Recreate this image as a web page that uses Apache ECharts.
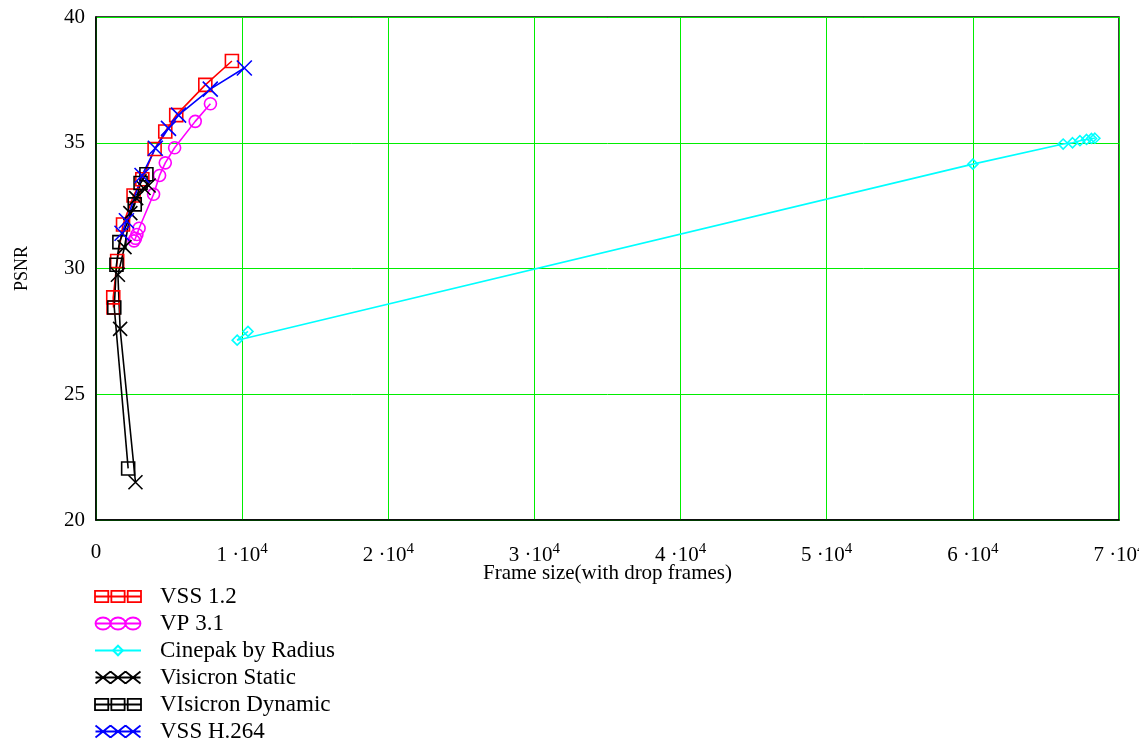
<!DOCTYPE html>
<html>
<head>
<meta charset="utf-8">
<script src="https://cdn.jsdelivr.net/npm/echarts@6/dist/echarts.min.js"></script>
<style>
html,body{margin:0;padding:0;background:#fff;}
#chart{width:1139px;height:743px;}
</style>
</head>
<body>
<div id="chart"></div>
<script>
// ---- data (x: frame size, y: PSNR) ----
const seriesNames = ['VSS 1.2', 'VP 3.1', 'Cinepak by Radius', 'Visicron Static', 'VIsicron Dynamic', 'VSS H.264'];

const vss12 = [[1200,28.45],[1180,28.85],[1450,30.3],[1850,31.75],[2570,32.9],[3170,33.55],[4010,34.75],[4740,35.45],[5490,36.1],[7480,37.3],[9300,38.25]];
const vp31 = [[2600,31.1],[2700,31.2],[2800,31.35],[2950,31.6],[3940,32.95],[4350,33.7],[4740,34.2],[5380,34.8],[6790,35.85],[7830,36.55]];
const cinepak = [[10400,27.5],[9660,27.15],[60000,34.15],[66180,34.95],[66820,35.0],[67330,35.08],[67780,35.13],[68120,35.17],[68350,35.18]];
const visicronStatic = [[2700,21.5],[1650,27.6],[1500,29.75],[1950,30.85],[2350,32.2],[2750,32.8],[3250,33.2],[3600,33.3]];
const visicronDynamic = [[2200,22.05],[1250,28.45],[1400,30.15],[1600,31.05],[2650,32.55],[3050,33.4],[3450,33.75]];
const vssH264 = [[1780,31.4],[2080,31.9],[3150,33.7],[4060,34.78],[4960,35.57],[5650,36.1],[7820,37.13],[10150,37.97]];

const xTicks = [0,10000,20000,30000,40000,50000,60000,70000];
const yTicks = [20,25,30,35,40];

const xMark = 'path://M0 0L10 10M10 0L0 10';
const icoRects = 'path://M0 0H13V11H0ZM16 0H29V11H16ZM32 0H45V11H32ZM0 5.5H45';
const icoCircles = 'path://M0 6A7.5 6 0 1 1 15 6A7.5 6 0 1 1 0 6ZM15 6A7.5 6 0 1 1 30 6A7.5 6 0 1 1 15 6ZM30 6A7.5 6 0 1 1 45 6A7.5 6 0 1 1 30 6ZM0 6H45';
const icoX = 'path://M0 0L15 12M15 0L0 12M15 0L30 12M30 0L15 12M30 0L45 12M45 0L30 12M0 6H45';

const font = 'Liberation Serif';

function mk(name, data, color, symbol, size) {
  return {
    name: name, type: 'line', data: data,
    symbol: symbol, symbolSize: size, showSymbol: true,
    color: color,
    lineStyle: {color: color, width: 1.6},
    itemStyle: {color: 'transparent', borderColor: color, borderWidth: 1.6},
    emphasis: {disabled: true},
    animation: false
  };
}

const chart = echarts.init(document.getElementById('chart'));
chart.setOption({
  backgroundColor: '#fff',
  animation: false,
  grid: {left: 96, right: 20, top: 17, bottom: 223, show: true, borderColor: '#000', borderWidth: 1.5, containLabel: false, outerBoundsMode: 'none'},
  xAxis: {
    type: 'value', min: xTicks[0], max: xTicks[xTicks.length-1], interval: 10000,
    name: 'Frame size(with drop frames)', nameLocation: 'middle', nameGap: 43, nameMoveOverlap: false,
    nameTextStyle: {fontFamily: font, fontSize: 21, color: '#000'},
    axisLine: {show: true, lineStyle: {color: '#000', width: 1.5}},
    axisTick: {show: false},
    splitLine: {show: true, lineStyle: {color: '#00ee00', width: 1}},
    axisLabel: {
      margin: 22, color: '#000', fontFamily: font, fontSize: 21,
      showMaxLabel: true, hideOverlap: false,
      formatter: function (v) { return v === 0 ? '{b|0}' : '{b|' + (v/10000) + ' ·10}{s|4}'; },
      rich: {
        b: {fontFamily: font, fontSize: 21, color: '#000'},
        s: {fontFamily: font, fontSize: 15, color: '#000', padding: [0,0,11,0]}
      }
    }
  },
  yAxis: {
    type: 'value', min: yTicks[0], max: yTicks[yTicks.length-1], interval: 5,
    name: 'PSNR', nameLocation: 'middle', nameGap: 65, nameRotate: 90, nameMoveOverlap: false,
    nameTextStyle: {fontFamily: font, fontSize: 18, color: '#000'},
    axisLine: {show: true, lineStyle: {color: '#000', width: 1.5}},
    axisTick: {show: false},
    splitLine: {show: true, lineStyle: {color: '#00ee00', width: 1}},
    axisLabel: {margin: 11, color: '#000', fontFamily: font, fontSize: 21}
  },
  legend: {
    orient: 'vertical', left: 94, top: 585, height: 200, padding: 0, itemGap: 4,
    itemWidth: 46, itemHeight: 12, selectedMode: false,
    textStyle: {fontFamily: font, fontSize: 23, lineHeight: 23, color: '#000', padding: [0,0,0,14]},
    data: [
      {name: seriesNames[0], icon: icoRects, itemStyle: {color: 'transparent', borderColor: '#ff0000', borderWidth: 1.8}},
      {name: seriesNames[1], icon: icoCircles, itemStyle: {color: 'transparent', borderColor: '#ff00ff', borderWidth: 1.8}},
      {name: seriesNames[2]},
      {name: seriesNames[3], icon: icoX, itemStyle: {color: 'transparent', borderColor: '#000000', borderWidth: 1.8}},
      {name: seriesNames[4], icon: icoRects, itemStyle: {color: 'transparent', borderColor: '#000000', borderWidth: 1.8}},
      {name: seriesNames[5], icon: icoX, itemStyle: {color: 'transparent', borderColor: '#0000ff', borderWidth: 1.8}}
    ]
  },
  series: [
    mk(seriesNames[0], vss12, '#ff0000', 'rect', 13),
    mk(seriesNames[1], vp31, '#ff00ff', 'circle', 12),
    mk(seriesNames[2], cinepak, '#00ffff', 'diamond', 10),
    mk(seriesNames[3], visicronStatic, '#000000', xMark, 14),
    mk(seriesNames[4], visicronDynamic, '#000000', 'rect', 13),
    mk(seriesNames[5], vssH264, '#0000ff', xMark, 15)
  ]
});
</script>
</body>
</html>
